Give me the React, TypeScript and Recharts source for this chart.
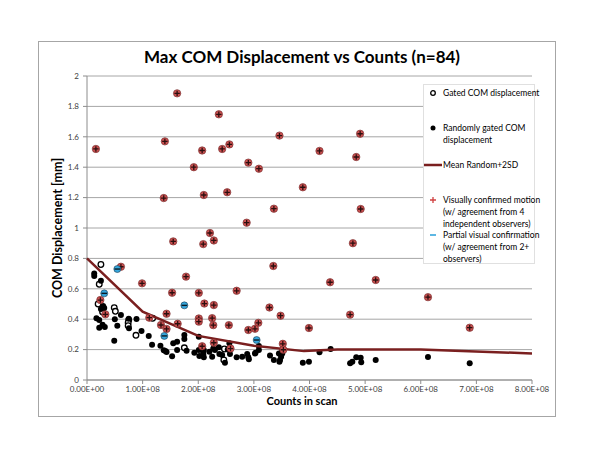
import React from 'react';
import { ScatterChart, Scatter, XAxis, YAxis, CartesianGrid } from 'recharts';

// x values are counts in scan, y values are COM displacement in mm
const gatedPoints: [number, number][] = [
  [0.25e8, 0.76], [0.22e8, 0.63], [0.2e8, 0.5], [0.28e8, 0.447], [0.49e8, 0.476],
  [0.51e8, 0.452], [0.75e8, 0.395], [0.74e8, 0.377], [0.74e8, 0.357], [0.88e8, 0.294],
  [1.18e8, 0.406], [1.75e8, 0.212], [2.47e8, 0.204], [2.46e8, 0.132],
];

const randomPoints: [number, number][] = [
  [0.13e8, 0.7], [0.13e8, 0.685], [0.25e8, 0.653], [0.29e8, 0.487], [0.31e8, 0.474],
  [0.25e8, 0.467], [0.17e8, 0.406], [0.22e8, 0.395], [0.22e8, 0.344], [0.28e8, 0.364],
  [0.32e8, 0.349], [0.5e8, 0.399], [0.545e8, 0.357], [0.61e8, 0.428], [0.49e8, 0.259],
  [0.75e8, 0.403], [0.755e8, 0.34], [0.89e8, 0.401], [0.98e8, 0.322], [1.11e8, 0.29],
  [1.17e8, 0.232], [1.32e8, 0.226], [1.38e8, 0.195], [1.43e8, 0.184], [1.41e8, 0.19],
  [1.53e8, 0.156], [1.55e8, 0.241], [1.62e8, 0.252], [1.62e8, 0.197], [1.75e8, 0.296],
  [1.75e8, 0.27], [1.79e8, 0.193], [1.93e8, 0.18], [2.01e8, 0.285], [2.01e8, 0.197],
  [2.02e8, 0.158], [2.09e8, 0.186], [2.09e8, 0.169], [2.1e8, 0.149], [2.1e8, 0.197],
  [2.2e8, 0.186], [2.25e8, 0.153], [2.27e8, 0.208], [2.3e8, 0.197], [2.37e8, 0.215],
  [2.38e8, 0.171], [2.43e8, 0.164], [2.48e8, 0.114], [2.53e8, 0.201], [2.56e8, 0.241],
  [2.57e8, 0.171], [2.69e8, 0.149], [2.79e8, 0.153], [2.88e8, 0.171], [2.9e8, 0.149],
  [2.91e8, 0.136], [3.02e8, 0.175], [3.03e8, 0.18], [3.09e8, 0.224], [3.09e8, 0.197],
  [3.29e8, 0.162], [3.36e8, 0.132], [3.45e8, 0.175], [3.46e8, 0.12], [3.47e8, 0.132],
  [3.49e8, 0.153], [3.51e8, 0.175], [3.51e8, 0.193], [3.88e8, 0.114], [3.99e8, 0.12],
  [4.18e8, 0.182], [4.38e8, 0.204], [4.73e8, 0.11], [4.77e8, 0.12], [4.84e8, 0.149],
  [4.92e8, 0.147], [4.93e8, 0.116], [5.19e8, 0.132], [6.13e8, 0.151], [6.88e8, 0.11],
];

const meanLine: [number, number][] = [
  [0, 0.8], [1e8, 0.45], [2e8, 0.29], [3e8, 0.225], [3.9e8, 0.19],
  [4.5e8, 0.2], [6e8, 0.2], [8e8, 0.175],
];

const confirmedPoints: [number, number][] = [
  [0.16e8, 1.52], [1.4e8, 1.57], [1.62e8, 1.886], [2.37e8, 1.748], [1.92e8, 1.4],
  [2.07e8, 1.51], [1.38e8, 1.197], [2.1e8, 1.217], [2.43e8, 1.52], [2.56e8, 1.55],
  [3.46e8, 1.608], [2.9e8, 1.43], [3.09e8, 1.39], [2.52e8, 1.235], [3.36e8, 1.127],
  [2.87e8, 1.035], [2.21e8, 0.967], [1.55e8, 0.912], [2.28e8, 0.918], [2.09e8, 0.894],
  [4.91e8, 1.62], [4.18e8, 1.507], [4.84e8, 1.467], [3.88e8, 1.268], [4.92e8, 1.125],
  [4.78e8, 0.9], [6.13e8, 0.545], [6.88e8, 0.344], [4.37e8, 0.643], [5.19e8, 0.658],
  [4.73e8, 0.43], [3.35e8, 0.75], [1.78e8, 0.68], [2.01e8, 0.573], [2.69e8, 0.587],
  [2.11e8, 0.503], [2.28e8, 0.493], [3.28e8, 0.477], [3.48e8, 0.423], [2.25e8, 0.407],
  [2.01e8, 0.405], [2.01e8, 0.384], [2.27e8, 0.361], [2.55e8, 0.361], [3.08e8, 0.376],
  [3.02e8, 0.337], [2.9e8, 0.329], [3.99e8, 0.342], [3.52e8, 0.238], [2.28e8, 0.245],
  [2.07e8, 0.222], [2.58e8, 0.207], [3.53e8, 0.199], [0.61e8, 0.745], [0.99e8, 0.636],
  [1.53e8, 0.574], [0.24e8, 0.526], [0.33e8, 0.432], [1.43e8, 0.436], [1.12e8, 0.41],
  [1.33e8, 0.362], [1.63e8, 0.37], [1.43e8, 0.336],
];

const partialPoints: [number, number][] = [
  [0.545e8, 0.73], [0.31e8, 0.57], [1.75e8, 0.491], [1.39e8, 0.29], [3.05e8, 0.263],
];

const xTicks = [0, 1e8, 2e8, 3e8, 4e8, 5e8, 6e8, 7e8, 8e8];
const xTickLabels = ['0.00E+00', '1.00E+08', '2.00E+08', '3.00E+08', '4.00E+08', '5.00E+08', '6.00E+08', '7.00E+08', '8.00E+08'];
const yTicks = [0, 0.2, 0.4, 0.6, 0.8, 1, 1.2, 1.4, 1.6, 1.8, 2];
const yTickLabels = ['0', '0.2', '0.4', '0.6', '0.8', '1', '1.2', '1.4', '1.6', '1.8', '2'];

const toPts = (a: [number, number][]) => a.map(([x, y]) => ({ x, y }));

const FONT = 'Lato, "Liberation Sans", sans-serif';

const OpenDot = (p: any) => (
  <circle cx={p.cx} cy={p.cy} r={2.8} fill="#fff" stroke="#000" strokeWidth={1.3} />
);
const BlackDot = (p: any) => <circle cx={p.cx} cy={p.cy} r={3} fill="#000" />;
const RedPlus = (p: any) => (
  <g>
    <circle cx={p.cx} cy={p.cy} r={3.7} fill="#cc5151" stroke="#6b2727" strokeWidth={0.6} />
    <path d={`M${p.cx - 2.7},${p.cy}H${p.cx + 2.7}M${p.cx},${p.cy - 2.7}V${p.cy + 2.7}`} stroke="#2b0f0f" strokeWidth={1.3} />
  </g>
);
const BlueDash = (p: any) => (
  <g>
    <circle cx={p.cx} cy={p.cy} r={3.5} fill="#35a6dc" stroke="#1c3c50" strokeWidth={0.6} />
    <path d={`M${p.cx - 2.8},${p.cy}H${p.cx + 2.8}`} stroke="#0b1a24" strokeWidth={1.4} />
  </g>
);
const NoDot = () => <g />;

const legendText: React.CSSProperties = { position: 'absolute', left: 19, fontSize: 8.5, lineHeight: '12px', color: '#000', whiteSpace: 'nowrap' };

export default function App() {
  return (
    <div style={{ position: 'absolute', left: 0, top: 0, width: 600, height: 464, background: '#fff', fontFamily: FONT }}>
      <div style={{ position: 'absolute', left: 38, top: 41, width: 516, height: 374, border: '1px solid #a6a6a6' }} />
      <div style={{ position: 'absolute', left: 0, top: 0 }}>
        <ScatterChart width={600} height={464} margin={{ top: 76, right: 68, left: 47, bottom: 54 }}>
          <CartesianGrid vertical={false} stroke="#a6a6a6" />
          <XAxis
            type="number"
            dataKey="x"
            domain={[0, 8e8]}
            ticks={xTicks}
            height={30}
            tickSize={4}
            tickMargin={2}
            tickFormatter={(v: number) => xTickLabels[xTicks.indexOf(v)] ?? ''}
            stroke="#8c8c8c"
            tick={{ fontSize: 8, fill: '#404040', fontFamily: FONT }}
          />
          <YAxis
            type="number"
            dataKey="y"
            domain={[0, 2]}
            ticks={yTicks}
            width={40}
            tickSize={4}
            tickMargin={4}
            tickFormatter={(v: number) => yTickLabels[yTicks.indexOf(v)] ?? ''}
            stroke="#8c8c8c"
            tick={{ fontSize: 8, fill: '#404040', fontFamily: FONT }}
          />
          <Scatter data={toPts(gatedPoints)} shape={OpenDot} isAnimationActive={false} />
          <Scatter data={toPts(randomPoints)} shape={BlackDot} isAnimationActive={false} />
          <Scatter
            data={toPts(meanLine)}
            line={{ stroke: '#7a1f1f', strokeWidth: 2.5 }}
            lineType="joint"
            shape={NoDot}
            isAnimationActive={false}
          />
          <Scatter data={toPts(confirmedPoints)} shape={RedPlus} isAnimationActive={false} />
          <Scatter data={toPts(partialPoints)} shape={BlueDash} isAnimationActive={false} />
        </ScatterChart>
      </div>

      <div style={{ position: 'absolute', left: 0, width: 604, top: 46, textAlign: 'center', fontSize: 17, fontWeight: 700 }}>
        Max COM Displacement vs Counts (n=84)
      </div>
      <div style={{ position: 'absolute', left: 0, width: 604, top: 394, textAlign: 'center', fontSize: 11, fontWeight: 700 }}>
        Counts in scan
      </div>
      <div style={{ position: 'absolute', left: 57, top: 228, transform: 'translate(-50%, -50%) rotate(-90deg)', fontSize: 12.5, fontWeight: 700, whiteSpace: 'nowrap' }}>
        COM Displacement [mm]
      </div>

      <div style={{ position: 'absolute', left: 423, top: 84, width: 110, height: 178, background: '#fff', border: '1px solid #e0e0e0' }}>
        <svg width={18} height={178} style={{ position: 'absolute', left: 0, top: 0 }}>
          <circle cx={9} cy={8} r={2.3} fill="#fff" stroke="#000" strokeWidth={1.3} />
          <circle cx={9} cy={43} r={2.5} fill="#000" />
          <line x1={0} x2={18} y1={80} y2={80} stroke="#7a1f1f" strokeWidth={2.5} />
          <path d="M6,115H12M9,112V118" stroke="#d04040" strokeWidth={1.3} />
          <path d="M6,150H12" stroke="#35a6dc" strokeWidth={1.6} />
        </svg>
        <div style={{ ...legendText, top: 2 }}>Gated COM displacement</div>
        <div style={{ ...legendText, top: 37 }}>Randomly gated COM<br />displacement</div>
        <div style={{ ...legendText, top: 74 }}>Mean Random+2SD</div>
        <div style={{ ...legendText, top: 109 }}>Visually confirmed motion<br />(w/ agreement from 4<br />independent observers)</div>
        <div style={{ ...legendText, top: 144 }}>Partial visual confirmation<br />(w/ agreement from 2+<br />observers)</div>
      </div>
    </div>
  );
}
